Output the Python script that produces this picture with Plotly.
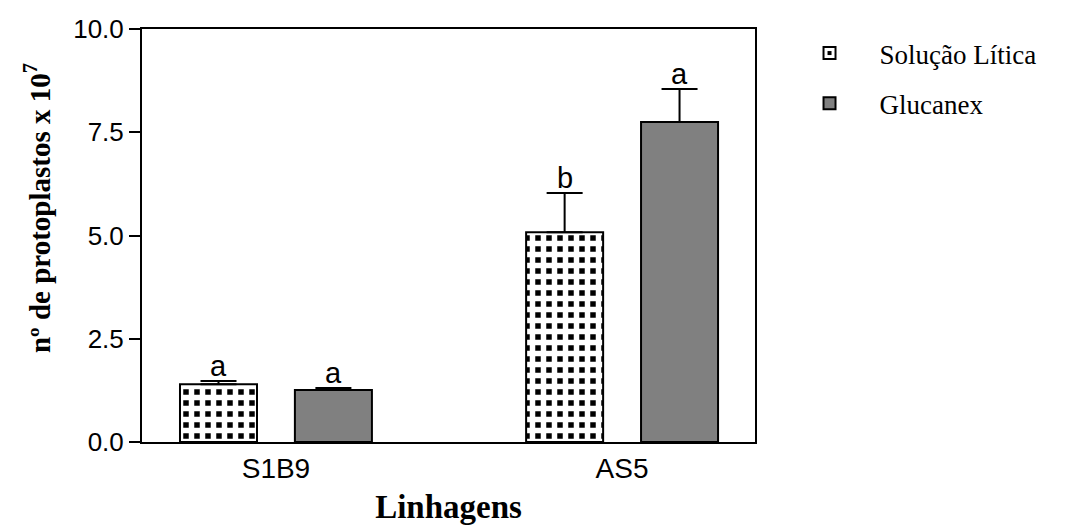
import plotly.graph_objects as go

# Strains and treatments
linhagens = ["S1B9", "AS5"]
solucao_litica = [1.40, 5.08]
solucao_litica_err = [0.08, 0.95]
glucanex = [1.26, 7.75]
glucanex_err = [0.05, 0.80]
letras_solucao = ["a", "b"]
letras_glucanex = ["a", "a"]

BAR_W = 0.2225
OFFSET = 0.166

fig = go.Figure()

fig.add_trace(go.Bar(
    name="Solução Lítica",
    x=linhagens,
    y=solucao_litica,
    width=BAR_W,
    offset=-OFFSET - BAR_W / 2,
    legendgroup="sol",
    marker=dict(
        color="white",
        line=dict(color="black", width=2),
        pattern=dict(shape="+", fgcolor="white", bgcolor="black",
                     fillmode="replace", size=11, solidity=0.75),
    ),
    error_y=dict(type="data", symmetric=False, array=solucao_litica_err,
                 arrayminus=[0] * len(solucao_litica), color="black",
                 thickness=2, width=18),
))

fig.add_trace(go.Bar(
    name="Glucanex",
    x=linhagens,
    y=glucanex,
    width=BAR_W,
    offset=OFFSET - BAR_W / 2,
    legendgroup="glu",
    marker=dict(color="#808080", line=dict(color="black", width=2)),
    error_y=dict(type="data", symmetric=False, array=glucanex_err,
                 arrayminus=[0] * len(glucanex), color="black",
                 thickness=2, width=18),
))

# significance letters above each error bar
for i, cat in enumerate(linhagens):
    for val, err, letra, sign in [
        (solucao_litica[i], solucao_litica_err[i], letras_solucao[i], -1),
        (glucanex[i], glucanex_err[i], letras_glucanex[i], 1),
    ]:
        fig.add_annotation(
            x=i + sign * OFFSET, y=val + err, xref="x", yref="y",
            text=letra, showarrow=False, yanchor="bottom", yshift=-3,
            font=dict(family="Liberation Sans, Arial", size=29, color="black"),
        )

# y-axis title, drawn as a rotated annotation so it can sit slightly above centre
fig.add_annotation(
    text="<b>nº de protoplastos x 10<sup>7</sup></b>",
    xref="paper", yref="paper", x=-0.171, y=0.567,
    xanchor="center", yanchor="middle", textangle=-90, showarrow=False,
    font=dict(family="Liberation Serif, Times New Roman", size=29, color="black"),
)

fig.update_layout(
    width=1070, height=525,
    margin=dict(l=142, r=315, t=29, b=83),
    plot_bgcolor="white", paper_bgcolor="white",
    barmode="overlay",
    showlegend=True,
    legend=dict(
        x=1.04, y=1.0, xanchor="left", yanchor="top",
        font=dict(family="Liberation Serif, Times New Roman", size=27, color="black"),
        tracegroupgap=12, itemwidth=90, bgcolor="rgba(0,0,0,0)",
    ),
    xaxis=dict(
        type="category",
        range=[-0.387, 1.384],
        automargin=False,
        showline=True, linecolor="black", linewidth=2, mirror=True,
        ticks="", showgrid=False, zeroline=False,
        tickfont=dict(family="Liberation Sans, Arial", size=28, color="black"),
        title=dict(text="<b>Linhagens</b>", standoff=16,
                   font=dict(family="Liberation Serif, Times New Roman", size=33, color="black")),
    ),
    yaxis=dict(
        range=[0, 10], tickvals=[0, 2.5, 5, 7.5, 10], tickformat=".1f",
        automargin=False,
        showline=True, linecolor="black", linewidth=2, mirror=True,
        ticks="outside", ticklen=11, tickwidth=2, tickcolor="black",
        showgrid=False, zeroline=False,
        tickfont=dict(family="Liberation Sans, Arial", size=26, color="black"),
    ),
)

fig.write_html("out.html")
